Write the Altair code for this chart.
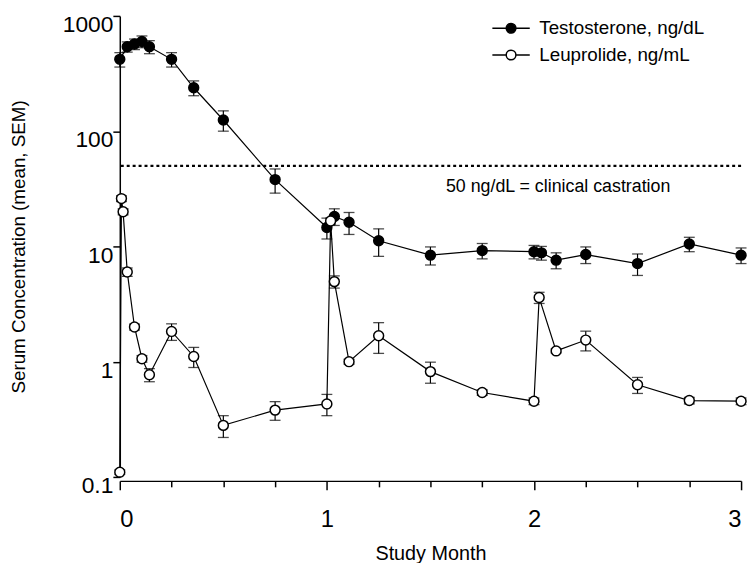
import altair as alt
import pandas as pd

# ---- data (months, mean, SEM) ----
T_NAME = "Testosterone, ng/dL"
L_NAME = "Leuprolide, ng/mL"

t_month = [0, 0.036, 0.071, 0.107, 0.143, 0.25, 0.357, 0.5, 0.75, 1.0, 1.036, 1.107,
           1.25, 1.5, 1.75, 2.0, 2.036, 2.107, 2.25, 2.5, 2.75, 3.0]
t_mean = [420, 540, 570, 600, 540, 420, 238, 125, 38, 14.6, 18.2, 16.2,
          11.2, 8.4, 9.2, 9.0, 8.8, 7.6, 8.5, 7.1, 10.5, 8.4]
t_sem = [60, 55, 60, 70, 70, 60, 35, 25, 9, 3, 3, 3.5,
         3, 1.5, 1.4, 1.2, 1.2, 1.2, 1.4, 1.5, 1.5, 1.3]

l_month = [0, 0.008, 0.016, 0.036, 0.071, 0.107, 0.143, 0.25, 0.357, 0.5, 0.75, 1.0,
           1.018, 1.036, 1.107, 1.25, 1.5, 1.75, 2.0, 2.025, 2.107, 2.25, 2.5, 2.75, 3.0]
l_mean = [0.11, 26, 20, 6.0, 2.0, 1.06, 0.77, 1.83, 1.11, 0.28, 0.38, 0.43,
          16.6, 4.95, 1.0, 1.68, 0.82, 0.54, 0.454, 3.6, 1.24, 1.54, 0.63, 0.46, 0.454]
l_sem = [0.005, 1.5, 1.2, 0.5, 0.12, 0.07, 0.1, 0.3, 0.22, 0.06, 0.07, 0.09,
         1.0, 0.6, 0.05, 0.5, 0.17, 0.03, 0.03, 0.4, 0.05, 0.3, 0.1, 0.03, 0.03]

castration_level = 50
note_text = "50 ng/dL = clinical castration"
note_month = 1.575
note_value = 33

x_ticks = [0, 0.25, 0.5, 0.75, 1, 1.25, 1.5, 1.75, 2, 2.25, 2.5, 2.75, 3]
y_ticks = [0.1, 1, 10, 100, 1000]

rows = []
for i, (m, v, s) in enumerate(zip(t_month, t_mean, t_sem)):
    rows.append(dict(series=T_NAME, month=m, value=v, lo=v - s, hi=v + s, idx=i))
for i, (m, v, s) in enumerate(zip(l_month, l_mean, l_sem)):
    rows.append(dict(series=L_NAME, month=m, value=v, lo=max(v - s, 0.101), hi=v + s, idx=i))
df = pd.DataFrame(rows)

FONT = "Liberation Sans"

xscale = alt.Scale(domain=[0, 3], nice=False, zero=False)
yscale = alt.Scale(type="log", domain=[0.1, 1000], nice=False)

xaxis = alt.Axis(
    values=x_ticks,
    labelExpr="datum.value % 1 === 0 ? format(datum.value, 'd') : ''",
    tickSize={"condition": {"test": "datum.value % 1 === 0", "value": 9}, "value": 6},
    tickWidth=1.5, domainWidth=1.5, domainColor="black", tickColor="black",
    labelFontSize=24, labelFont=FONT, labelColor="black", labelPadding=18,
    title="Study Month", titleFont=FONT, titleFontSize=20, titleFontWeight="normal",
    titleColor="black", titlePadding=12, grid=False, offset=4,
)
yaxis = alt.Axis(
    values=y_ticks, format="~g",
    tickSize=7, tickWidth=1.5, domainWidth=1.5, domainColor="black", tickColor="black",
    labelFontSize=23, labelFont=FONT, labelColor="black", labelPadding=0,
    labelBaseline="top", labelOffset=-2,
    title="Serum Concentration (mean, SEM)", titleFont=FONT, titleFontSize=19,
    titleFontWeight="normal", titleColor="black", titlePadding=34, grid=False,
)

base = alt.Chart(df)
X = alt.X("month:Q", scale=xscale, axis=xaxis)

lines = base.mark_line(color="black", strokeWidth=1.2).encode(
    x=X, y=alt.Y("value:Q", scale=yscale, axis=yaxis),
    detail="series:N", order="idx:Q",
)
bars = base.mark_rule(color="black", strokeWidth=1.2).encode(
    x="month:Q", y="lo:Q", y2="hi:Q"
)
cap_lo = base.mark_tick(color="black", orient="horizontal", size=11, thickness=1.3).encode(
    x="month:Q", y="lo:Q"
)
cap_hi = base.mark_tick(color="black", orient="horizontal", size=11, thickness=1.3).encode(
    x="month:Q", y="hi:Q"
)

legend_path = ("M-2.7,0H-0.7M0.7,0H2.7M-0.7,0A0.7,0.7,0,1,0,0.7,0"
               "A0.7,0.7,0,1,0,-0.7,0Z")
points = base.mark_point(shape="circle", filled=True, size=100, stroke="black",
                         strokeWidth=1.5, opacity=1).encode(
    x="month:Q", y="value:Q",
    fill=alt.Fill("series:N",
                  scale=alt.Scale(domain=[T_NAME, L_NAME], range=["black", "white"]),
                  legend=alt.Legend(
                      title=None, orient="none", legendX=386, legendY=3,
                      symbolType=legend_path, symbolSize=196,
                      symbolStrokeColor="black", symbolStrokeWidth=1.5,
                      labelFont=FONT, labelFontSize=19, labelColor="black",
                      labelOffset=19, labelLimit=400, rowPadding=7, padding=0,
                  )),
)

ref = alt.Chart(pd.DataFrame({"v": [castration_level]})).mark_rule(
    color="black", strokeWidth=2.5, strokeDash=[3, 3]
).encode(y="v:Q")

note = alt.Chart(pd.DataFrame({"m": [note_month], "v": [note_value], "t": [note_text]})).mark_text(
    align="left", baseline="middle", font=FONT, fontSize=18, color="black"
).encode(x="m:Q", y="v:Q", text="t:N")

chart = alt.layer(lines, bars, cap_lo, cap_hi, ref, note, points).properties(
    width=628, height=466,
    autosize=alt.AutoSizeParams(type="none"),
    padding={"left": 113, "top": 5, "right": 7, "bottom": 84},
).configure_view(stroke=None)

chart.save("out.html", embed_options={"renderer": "svg", "actions": False})
